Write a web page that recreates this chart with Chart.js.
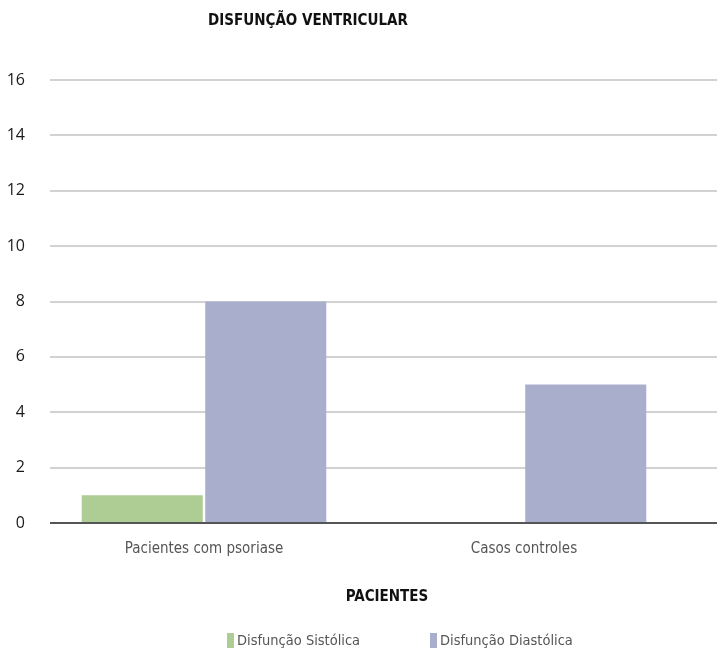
<!DOCTYPE html>
<html>
<head>
<meta charset="utf-8">
<script src="https://cdn.jsdelivr.net/npm/chart.js@4"></script>
<style>
  html, body { margin: 0; padding: 0; background: #fff; }
  #wrap { width: 717px; height: 655px; position: relative; }
</style>
</head>
<body>
<div id="wrap"><canvas id="chart" width="717" height="655"></canvas></div>
<script>
// categories and series
const categorias = ['Pacientes com psoriase', 'Casos controles'];
const sistolica = [1, null];
const diastolica = [8, 5];
const nomesSeries = ['Disfunção Sistólica', 'Disfunção Diastólica'];
const coresSeries = ['#aecd95', '#a9aecd'];
const yTicks = [0, 2, 4, 6, 8, 10, 12, 14, 16];
const titulo = 'DISFUNÇÃO VENTRICULAR';
const tituloX = 'PACIENTES';

const condensed = '"Liberation Sans Narrow", "DejaVu Sans Condensed", sans-serif';

// grid lines, axis line, titles and legend drawn by hand
const decoracoes = {
  id: 'decoracoes',
  beforeDatasetsDraw(chart) {
    const ctx = chart.ctx;
    const y = chart.scales.y;
    ctx.save();
    yTicks.forEach(v => {
      if (v === 0) return;
      const py = Math.round(y.getPixelForValue(v));
      ctx.strokeStyle = '#d2d2d2';
      ctx.lineWidth = 2;
      ctx.beginPath();
      ctx.moveTo(50, py);
      ctx.lineTo(717, py);
      ctx.stroke();
    });
    ctx.restore();
  },
  afterDatasetsDraw(chart) {
    const ctx = chart.ctx;
    const y = chart.scales.y;
    ctx.save();
    const p0 = Math.round(y.getPixelForValue(0));
    ctx.strokeStyle = '#555';
    ctx.lineWidth = 2;
    ctx.beginPath();
    ctx.moveTo(50, p0);
    ctx.lineTo(717, p0);
    ctx.stroke();

    ctx.fillStyle = '#111';
    ctx.textAlign = 'center';
    ctx.textBaseline = 'middle';
    ctx.font = 'bold 15px "DejaVu Sans Condensed", sans-serif';
    ctx.fillText(titulo, 308, 21);
    ctx.fillText(tituloX, 387, 597);

    // legend
    ctx.font = '14.5px ' + condensed;
    ctx.textAlign = 'left';
    const legX = [227, 430];
    nomesSeries.forEach((nome, i) => {
      ctx.fillStyle = coresSeries[i];
      ctx.fillRect(legX[i], 633, 7, 15);
      ctx.fillStyle = '#555';
      ctx.fillText(nome, legX[i] + 10, 641);
    });
    ctx.restore();
  }
};

new Chart(document.getElementById('chart'), {
  type: 'bar',
  data: {
    labels: categorias,
    datasets: [
      { label: nomesSeries[0], data: sistolica, backgroundColor: coresSeries[0] },
      { label: nomesSeries[1], data: diastolica, backgroundColor: coresSeries[1] }
    ]
  },
  options: {
    responsive: false,
    animation: false,
    layout: { padding: { left: 0, right: 33, top: 80, bottom: 0 } },
    plugins: {
      legend: { display: false },
      title: { display: false },
      tooltip: { enabled: false }
    },
    datasets: { bar: { barPercentage: 0.98, categoryPercentage: 0.772 } },
    scales: {
      x: {
        grid: { display: false },
        border: { display: false },
        ticks: { color: '#555', font: { family: condensed, size: 15 }, padding: 9 },
        afterFit(scale) { scale.height = 132; }
      },
      y: {
        min: 0,
        max: 16,
        grid: { display: false, drawTicks: false },
        border: { display: false },
        ticks: { stepSize: 2, color: '#1a1a1a', font: { family: '"Open Sans", sans-serif', size: 16 }, padding: 19 },
        afterFit(scale) { scale.width = 44; }
      }
    }
  },
  plugins: [decoracoes]
});
</script>
</body>
</html>
